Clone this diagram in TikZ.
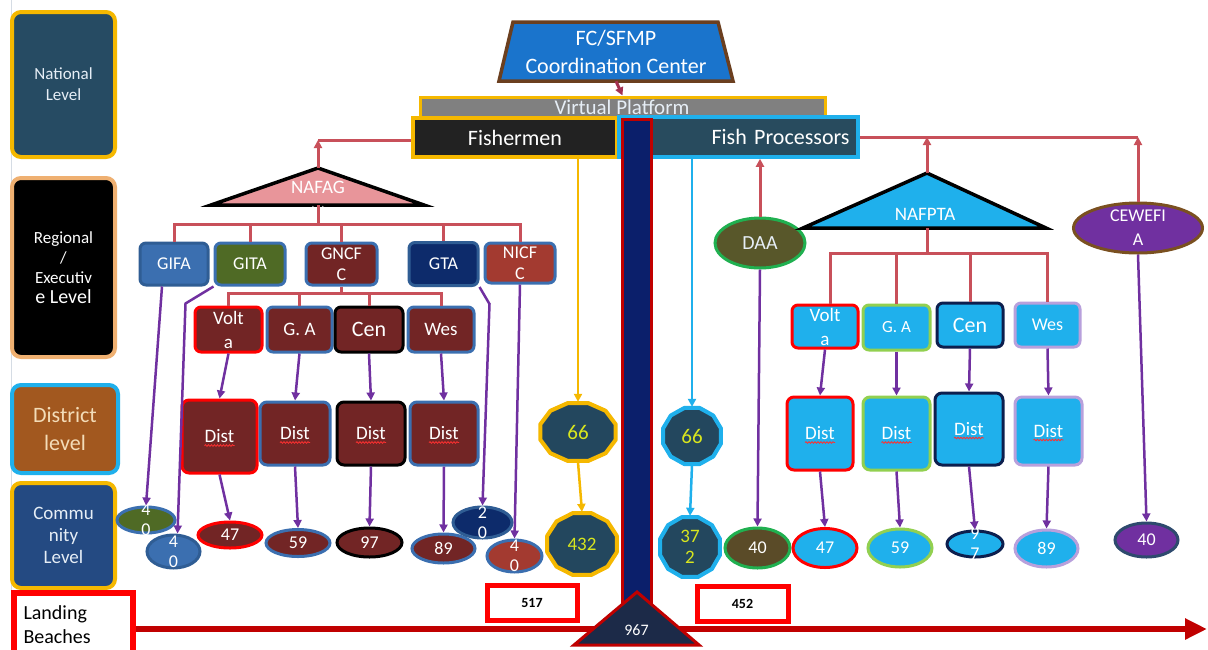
\documentclass[tikz,border=0pt]{standalone}
\usepackage{fontspec}
\setmainfont{Carlito}
\usetikzlibrary{arrows.meta,shapes.geometric,decorations.pathmorphing}
\definecolor{cGold}{HTML}{F5B800}
\definecolor{cNat}{HTML}{264B63}
\definecolor{cTan}{HTML}{EFB071}
\definecolor{cBrown}{HTML}{A2581F}
\definecolor{cCyan}{HTML}{1FB0EC}
\definecolor{cComm}{HTML}{244A82}
\definecolor{cBR}{HTML}{FF0000}
\definecolor{cDR}{HTML}{C00000}
\definecolor{cTrap}{HTML}{1A74CC}
\definecolor{cTrapB}{HTML}{6B3F1F}
\definecolor{cGray}{HTML}{808080}
\definecolor{cFish}{HTML}{222222}
\definecolor{cFP}{HTML}{284B5E}
\definecolor{cNavy}{HTML}{0B1F6B}
\definecolor{cTri}{HTML}{1C2A48}
\definecolor{cRedC}{HTML}{C8505A}
\definecolor{cMar}{HTML}{A33050}
\definecolor{cPur}{HTML}{7030A0}
\definecolor{cPink}{HTML}{E8959A}
\definecolor{cMB}{HTML}{3B6FB0}
\definecolor{cMBd}{HTML}{2F5D94}
\definecolor{cOlive}{HTML}{4F6A25}
\definecolor{cMaroon}{HTML}{722525}
\definecolor{cBrick}{HTML}{A33A30}
\definecolor{cDNavy}{HTML}{0D2B6B}
\definecolor{cLGreen}{HTML}{92D050}
\definecolor{cNavB}{HTML}{0D1F4E}
\definecolor{cLav}{HTML}{B8A0DC}
\definecolor{cDAA}{HTML}{58572A}
\definecolor{cDAAb}{HTML}{5A4B28}
\definecolor{cGreen}{HTML}{20B050}
\definecolor{cCewB}{HTML}{7A5020}
\definecolor{cSlate}{HTML}{2E4A6E}
\definecolor{cDec}{HTML}{23475E}
\definecolor{cYel}{HTML}{D8E61E}
\definecolor{cBeige}{HTML}{F3DCB8}
\definecolor{cLt}{HTML}{E6EEF6}
\definecolor{cEdge}{HTML}{D5DCE4}
\definecolor{cWavy}{HTML}{FF3030}
\newcommand{\fsz}[2]{\fontsize{#1}{#2}\selectfont}
\newcommand{\decag}[8]{%
  \draw[line width=4pt, line join=round, fill=#6, draw=#7]
    ({#2+#4*cos(15)},{#3+#5*sin(15)})
    \foreach \k in {1,...,11}{ -- ({#2+#4*cos(15+30*\k)},{#3+#5*sin(15+30*\k)}) } -- cycle;
  \node[ellipse, inner sep=0pt, minimum width={2*#4pt}, minimum height={2*#5pt},
        label={[text=cYel, align=center, font=\fsz{19}{21}, inner sep=0pt]center:#8}] (#1) at (#2,#3) {};
}
\begin{document}
\begin{tikzpicture}[x=1pt,y=-1pt,
  >={Triangle[length=8pt,width=8pt]},
  lvl/.style={rounded corners=9pt, line width=4pt, align=center, inner sep=0pt},
  box/.style={rounded corners=6pt, line width=3pt, align=center, inner sep=0pt, text=white, font=\fsz{18}{21}},
  rbox/.style={box, font=\fsz{19}{24}},
  dbox/.style={rounded corners=7pt, line width=3pt, align=center, inner sep=0pt, text=white, font=\fsz{19}{22}},
  ell/.style={ellipse, inner sep=0pt, line width=3pt},
  et/.style={label={[text=white, align=center, font=\fsz{18}{20}, inner sep=0pt]center:#1}},
  redc/.style={draw=cRedC, line width=3pt},
  purc/.style={draw=cPur, line width=2.5pt, ->},
  goldc/.style={draw=cGold, line width=2.5pt},
  cyanc/.style={draw=cCyan, line width=2.5pt},
  wavy/.style={draw=cWavy, line width=0.8pt, decorate, decoration={snake, amplitude=0.8pt, segment length=3pt}},
  numbox/.style={draw=cBR, line width=5pt, fill=white, font=\bfseries\fsz{14}{16}}]
\useasboundingbox (0,0) rectangle (1208,649);
\fill[white] (0,0) rectangle (1208,649);
\draw[cEdge, line width=0.8pt] (11,0) -- (11,649);

% ---- level labels
\node[lvl, fill=cNat, draw=cGold, minimum width=103, minimum height=145, text=cLt, font=\fsz{17}{21}] (nat) at (63.5,84.5) {National\\Level};
\node[lvl, fill=black, draw=cTan, minimum width=103, minimum height=179, text=white, font=\fsz{17}{20}] (reg) at (63.5,267.5) {Regional\\/\\Executiv\\{\fsz{20}{23}e Level}};
\node[lvl, fill=cBrown, draw=cCyan, minimum width=106, minimum height=88, text=cBeige, font=\fsz{22}{28}] (dl) at (65,429) {District\\level};
\node[lvl, fill=cComm, draw=cGold, minimum width=103, minimum height=105, text=cLt, font=\fsz{19}{22}] (cl) at (63.5,535.5) {Commu\\nity\\Level};
\node[draw=cBR, line width=6pt, fill=white, minimum width=119, minimum height=64, text width=100, align=left, font=\fsz{20}{24}] (land) at (73.5,625) {Landing\\Beaches};

% ---- bottom arrow
\coordinate (bend) at (1207,629);
\draw[draw=cDR, line width=6pt, -{Triangle[length=22pt,width=20pt]}] (land.east |- bend) -- (bend);

% ---- top
\draw[line width=3.5pt, fill=cTrap, draw=cTrapB, line join=miter] (513,22) -- (718,22) -- (733,81) -- (499,81) -- cycle;
\node[minimum width=205, minimum height=59, inner sep=0pt, text=white, align=center, font=\fsz{22}{28}] (fc) at (616,51.5) {FC/SFMP\\Coordination Center};
\node[draw=cGold, fill=cGray, line width=3pt, minimum width=405, minimum height=26, inner sep=0pt] (vp) at (622.5,110) {};
\node[text=cLt, font=\fsz{21}{23}, inner sep=0pt] (vpt) at (622,107) {Virtual Platform};
\draw[draw=cMar, line width=3pt, ->] (fc.south) -- (vp.north);
\node[draw=cGold, fill=cFish, line width=3.5pt, minimum width=204, minimum height=39, inner sep=0pt, text=white, font=\fsz{22}{24}] (fish) at (515,137.5) {Fishermen};
\node[draw=cCyan, fill=cFP, line width=3.5pt, minimum width=239, minimum height=40, inner xsep=0pt, inner ysep=0pt, text width=222, align=right, text=white, font=\fsz{22}{24}] (fp) at (738.5,137) {Fish Processors};

% ---- pillar
\draw[fill=cNavy, draw=cDR, line width=3pt] (622,119) rectangle (651,610);

% ---- left tree
\draw[fill=cPink, draw=black, line width=3.5pt, line join=miter] (318,168) -- (424,205) -- (211,205) -- cycle;
\coordinate (nafagtop) at (318,168);
\coordinate (nafagbot) at (318,205);
\node[text=white, font=\fsz{19}{21}, inner sep=0pt] (nafag) at (318,187) {NAFAG};
\node[text=white, font=\fsz{14}{16}, inner sep=0pt] (nafagn) at (318,212) {(4)};
\coordinate (lcorner) at (318,140);
\draw[redc, ->] (nafagtop) -- (lcorner);
\draw[redc] (lcorner) -- (fish.west |- lcorner);

\node[box, fill=cMB, draw=cMBd, minimum width=68, minimum height=42] (gifa) at (174,264) {GIFA};
\node[box, fill=cOlive, draw=cMB, minimum width=70, minimum height=42] (gita) at (250,264) {GITA};
\node[box, fill=cMaroon, draw=cMB, minimum width=71, minimum height=42] (gncfc) at (341.5,264) {GNCF\\C};
\node[box, fill=cDNavy, draw=cMBd, minimum width=69, minimum height=43] (gta) at (443.5,264) {GTA};
\node[box, fill=cBrick, draw=cMB, minimum width=70, minimum height=40] (nicfc) at (520,263) {NICF\\C};

\coordinate (lbus) at (318,224);
\draw[redc] (nafagbot) -- (lbus);
\draw[redc] (gifa.north) |- (lbus) -| (nicfc.north);
\draw[redc] (gita.north) -- (gita.north |- lbus);
\draw[redc] (gncfc.north) -- (gncfc.north |- lbus);
\draw[redc] (gta.north) -- (gta.north |- lbus);

\node[rbox, fill=cMaroon, draw=cBR, minimum width=67, minimum height=45] (lvolta) at (228.5,329.5) {Volt\\a};
\node[rbox, fill=cMaroon, draw=cMB, minimum width=65, minimum height=45] (lga) at (299.5,329.5) {G. A};
\node[rbox, fill=cMaroon, draw=black, minimum width=68, minimum height=45, font=\fsz{22}{24}] (lcen) at (369,329.5) {Cen};
\node[rbox, fill=cMaroon, draw=cMB, minimum width=66, minimum height=45] (lwes) at (441,329.5) {Wes};

\coordinate (gbus) at (341.5,293);
\draw[redc] (gncfc.south) -- (gbus);
\draw[redc] (lvolta.north) |- (gbus) -| (lwes.north);
\draw[redc] (lga.north) -- (lga.north |- gbus);
\draw[redc] (lcen.north) -- (lcen.north |- gbus);

\node[dbox, fill=cMaroon, draw=cBR, minimum width=75, minimum height=73] (ld1) at (219.5,436.5) {Dist};
\node[dbox, fill=cMaroon, draw=cMB, minimum width=70, minimum height=63] (ld2) at (295,433.5) {Dist};
\node[dbox, fill=cMaroon, draw=black, minimum width=68, minimum height=63] (ld3) at (371,433.5) {Dist};
\node[dbox, fill=cMaroon, draw=cMB, minimum width=68, minimum height=63] (ld4) at (444,433.5) {Dist};

\draw[purc] (lvolta.south) -- (ld1.north);
\draw[purc] (lga.south) -- (ld2.north);
\draw[purc] (lcen.south) -- (ld3.north);
\draw[purc] (lwes.south) -- (ld4.north);

\node[ell, fill=cMaroon, draw=cBR, minimum width=64, minimum height=26, et=47] (l47) at (230,535) {};
\node[ell, fill=cMaroon, draw=cMB, minimum width=64, minimum height=27, et=59] (l59) at (298,543) {};
\node[ell, fill=cMaroon, draw=black, minimum width=65, minimum height=29, et=97] (l97) at (369.5,542.5) {};
\node[ell, fill=cMaroon, draw=cMB, minimum width=63, minimum height=29, et=89] (l89) at (443.5,548.5) {};
\node[ell, fill=cOlive, draw=cMB, minimum width=58, minimum height=26, et={4\\0}] (la40) at (146,520) {};
\node[ell, fill=cMB, draw=cMBd, minimum width=53, minimum height=33, et={4\\0}] (lb40) at (173.5,551.5) {};
\node[ell, fill=cDNavy, draw=cMBd, minimum width=59, minimum height=31, et={2\\0}] (lc20) at (482.5,522.5) {};
\node[ell, fill=cBrick, draw=cMB, minimum width=55, minimum height=32, et={4\\0}] (ld40) at (514.5,556) {};

\draw[purc] (ld1.south) -- (l47.north);
\draw[purc] (ld2.south) -- (l59.north);
\draw[purc] (ld3.south) -- (l97.north);
\draw[purc] (ld4.south) -- (l89.north);
\draw[purc] ([xshift=-12pt]gifa.south) -- (la40.north);
\draw[purc] (gita.south west) -- ++(-28,17) -- ([xshift=4pt]lb40.north);
\draw[purc] (gta.south east) -- ++(10,17) -- (lc20.north);
\draw[purc] (nicfc.south) -- (ld40.north);

% ---- gold chain
\decag{g66}{578}{432}{39}{30}{cDec}{cGold}{\fsz{21}{23}66}
\decag{g432}{582}{544}{36}{32}{cDec}{cGold}{432}
\draw[goldc, ->] (fish.south -| g66.north) -- (g66.north);
\draw[goldc, ->] (g66.south) -- (g432.north);

% ---- cyan chain
\decag{c66}{692}{436}{30}{29}{cDec}{cCyan}{\fsz{21}{23}66}
\decag{c372}{690}{547}{31}{31}{cDec}{cCyan}{37\\2}
\draw[cyanc, ->] (fp.south -| c66.north) -- (c66.north);
\draw[cyanc, ->] (c66.south) -- (c372.north);

% ---- right tree
\node[ell, fill=cDAA, draw=cGreen, minimum width=90, minimum height=50, label={[text=cLt, font=\fsz{20}{22}, inner sep=0pt]center:DAA}] (daa) at (760,243) {};
\draw[redc, ->] (daa.north) -- (daa.north |- fp.south);
\node[ell, fill=cDAAb, draw=cGreen, minimum width=65, minimum height=40, et=40] (r40) at (757.5,548) {};
\draw[purc] (daa.south) -- (r40.north);

\draw[fill=cCyan, draw=black, line width=3.5pt, line join=miter] (927,173) -- (1046,228) -- (803,228) -- cycle;
\coordinate (nafptatop) at (927,173);
\coordinate (nafptabot) at (927,228);
\node[text=white, font=\fsz{19}{21}, inner sep=0pt] (nafpta) at (925,214) {NAFPTA};

\node[ell, fill=cPur, draw=cCewB, minimum width=129, minimum height=50, label={[text=white, align=center, font=\fsz{18}{24}, inner sep=0pt]center:CEWEFI\\A}] (cew) at (1138,228) {};
\draw[redc] (fp.east) -- (cew.north |- fp.east);
\draw[redc, ->] (cew.north) -- (cew.north |- fp.east);
\draw[redc, ->] (nafptatop) -- (nafptatop |- fp.east);

\node[rbox, fill=cCyan, draw=cBR, minimum width=66, minimum height=43] (rvolta) at (825,326.5) {Volt\\a};
\node[rbox, fill=cCyan, draw=cLGreen, minimum width=67, minimum height=45, font=\fsz{17}{21}] (rga) at (896.5,327.5) {G. A};
\node[rbox, fill=cCyan, draw=cNavB, minimum width=66, minimum height=44, font=\fsz{22}{24}] (rcen) at (970,325) {Cen};
\node[rbox, fill=cCyan, draw=cLav, minimum width=65, minimum height=44, font=\fsz{18}{21}] (rwes) at (1047.5,325) {Wes};

\coordinate (rbus) at (927,253);
\draw[redc] (nafptabot) -- (rbus);
\draw[redc] ([xshift=5pt]rvolta.north) |- (rbus) -| (rwes.north);
\draw[redc] (rga.north) -- (rga.north |- rbus);
\draw[redc] (rcen.north) -- (rcen.north |- rbus);

\node[dbox, fill=cCyan, draw=cBR, minimum width=66, minimum height=73] (rd1) at (820,433.5) {Dist};
\node[dbox, fill=cCyan, draw=cLGreen, minimum width=67, minimum height=73] (rd2) at (896.5,433.5) {Dist};
\node[dbox, fill=cCyan, draw=cNavB, minimum width=68, minimum height=72] (rd3) at (969,429) {Dist};
\node[dbox, fill=cCyan, draw=cLav, minimum width=67, minimum height=68] (rd4) at (1048.5,431) {Dist};

\draw[purc] (rvolta.south) -- (rd1.north);
\draw[purc] (rga.south) -- (rd2.north);
\draw[purc] (rcen.south) -- (rd3.north);
\draw[purc] (rwes.south) -- (rd4.north);

\node[ell, fill=cCyan, draw=cBR, minimum width=64, minimum height=39, et=47] (r47) at (825,548) {};
\node[ell, fill=cCyan, draw=cLGreen, minimum width=64, minimum height=38, et=59] (r59) at (900,548) {};
\node[ell, fill=cCyan, draw=cNavB, minimum width=56, minimum height=26, et={9\\7}] (r97) at (975,544) {};
\node[ell, fill=cCyan, draw=cLav, minimum width=63, minimum height=37, et=89] (r89) at (1046.5,548.5) {};
\node[ell, fill=cPur, draw=cSlate, minimum width=63, minimum height=34, et=40] (p40) at (1146.5,540) {};

\draw[purc] (rd1.south) -- (r47.north);
\draw[purc] (rd2.south) -- (r59.north);
\draw[purc] (rd3.south) -- (r97.north);
\draw[purc] (rd4.south) -- (r89.north);
\draw[purc] (cew.south) -- (p40.north);

% ---- wavy underlines
\foreach \n in {ld1,ld2,ld3,ld4,rd1,rd2,rd3,rd4}
  \draw[wavy] ([xshift=-15pt,yshift=-9pt]\n.center) -- ++(30,0);

% ---- totals
\node[numbox, minimum width=90, minimum height=35] (t517) at (532,602.5) {517};
\node[numbox, minimum width=91, minimum height=35] (t452) at (742.5,603.5) {452};
\draw[fill=cTri, draw=cDR, line width=3pt, line join=miter] (637,592) -- (699,645) -- (574,645) -- cycle;
\node[text=white, font=\fsz{16}{18}, inner sep=0pt] (t967) at (636.5,630) {967};
\end{tikzpicture}
\end{document}
